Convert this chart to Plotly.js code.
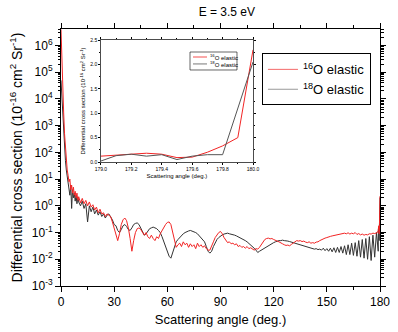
<!DOCTYPE html>
<html>
<head>
<meta charset="utf-8">
<script src="https://cdn.plot.ly/plotly-3.0.1.min.js"></script>
<style>
  html, body { margin: 0; padding: 0; background: #fff; }
  #chart { width: 398px; height: 332px; }
</style>
</head>
<body>
<div id="chart"></div>
<script>
// scattering angles (deg.)
var angle = [
  0, 0.5, 1, 1.5, 2, 2.5, 3, 3.5, 4, 4.5, 5, 5.5, 6, 6.5, 7, 7.5, 8, 8.5, 9, 9.5, 10,
  11, 12, 13, 14, 15, 16, 17, 18, 19, 20, 21, 22, 23, 24, 25, 26, 27, 28, 29, 30,
  31, 32, 33, 34, 35, 36, 37, 38, 39, 40, 41, 42, 43, 44, 45, 46, 47, 48, 49, 50,
  51, 52, 53, 54, 55, 56, 57, 58, 59, 60, 61, 62, 63, 64, 65, 66, 67, 68, 69, 70,
  71, 72, 73, 74, 75, 76, 77, 78, 79, 80, 81, 82, 83, 84, 85, 86, 87, 88, 89, 90,
  91, 92, 93, 94, 95, 96, 97, 98, 99, 100, 101, 102, 103, 104, 105, 106, 107, 108, 109, 110,
  111, 112, 113, 114, 115, 116, 117, 118, 119, 120, 121, 122, 123, 124, 125, 126, 127, 128, 129, 130,
  131, 132, 133, 134, 135, 136, 137, 138, 139, 140, 141, 142, 143, 144, 145, 146, 147, 148, 149, 150,
  151, 152, 153, 154, 155, 156, 157, 158, 159, 160, 161, 162, 163, 164, 165, 166, 167, 168, 169, 170,
  171, 172, 173, 174, 175, 176, 177, 178, 178.5,
  179.0, 179.1, 179.2, 179.3, 179.4, 179.5, 179.6, 179.7, 179.8, 179.9, 180.0
];

// 16O elastic
var o16 = [
  4e6, 2e5, 2e4, 3000, 500, 120, 45, 22, 14, 8, 10, 4, 6, 3, 5, 2.5, 3.5, 2, 3, 1.6, 2.2,
  1.3, 1.9, 1.2, 1.6, 1.0, 1.4, 0.9, 1.1, 0.7, 0.9, 0.55, 0.75, 0.5, 0.55, 0.4, 0.5, 0.45, 0.4, 0.25, 0.15,
  0.08, 0.05, 0.09, 0.2, 0.3, 0.35, 0.28, 0.15, 0.06, 0.02, 0.05, 0.1, 0.14, 0.15, 0.13, 0.1, 0.08, 0.1, 0.07, 0.06,
  0.08, 0.06, 0.05, 0.07, 0.06, 0.09, 0.12, 0.16, 0.2, 0.24, 0.25, 0.2, 0.1, 0.05, 0.028, 0.035, 0.04, 0.03, 0.045, 0.035,
  0.04, 0.028, 0.038, 0.03, 0.035, 0.025, 0.04, 0.03, 0.035, 0.028, 0.032, 0.025, 0.022, 0.022, 0.03, 0.045, 0.065, 0.085, 0.1, 0.11,
  0.09, 0.065, 0.05, 0.042, 0.045, 0.038, 0.04, 0.035, 0.038, 0.03, 0.033, 0.028, 0.03, 0.026, 0.03, 0.025, 0.027, 0.024, 0.022, 0.025,
  0.024, 0.028, 0.035, 0.045, 0.055, 0.06, 0.062, 0.058, 0.06, 0.055, 0.05, 0.048, 0.045, 0.04, 0.038, 0.035, 0.033, 0.034, 0.032, 0.036,
  0.04, 0.045, 0.05, 0.048, 0.05, 0.046, 0.048, 0.044, 0.042, 0.045, 0.04, 0.042, 0.04, 0.044, 0.045, 0.05, 0.055, 0.058, 0.062, 0.065,
  0.07, 0.072, 0.075, 0.078, 0.08, 0.085, 0.088, 0.09, 0.092, 0.095, 0.09, 0.098, 0.088, 0.095, 0.09, 0.1, 0.085, 0.092, 0.082, 0.088,
  0.08, 0.085, 0.082, 0.09, 0.088, 0.095, 0.092, 0.1, 0.1,
  0.12, 0.14, 0.16, 0.18, 0.16, 0.09, 0.1, 0.2, 0.33, 0.5, 2.3
];

// 18O elastic
var o18 = [
  5e4, 1e4, 2500, 600, 150, 50, 22, 12, 8, 5, 2.5, 6, 0.8, 4, 2, 3, 1.5, 2.5, 1.2, 2, 1.4,
  1.0, 1.5, 0.8, 1.2, 0.25, 1.0, 0.6, 0.9, 0.5, 0.7, 0.45, 0.6, 0.4, 0.5, 0.35, 0.45, 0.5, 0.4, 0.3, 0.2,
  0.18, 0.12, 0.1, 0.13, 0.18, 0.2, 0.17, 0.13, 0.12, 0.15, 0.2, 0.22, 0.23, 0.2, 0.15, 0.1, 0.08, 0.09, 0.11, 0.14,
  0.15, 0.16, 0.15, 0.14, 0.12, 0.1, 0.07, 0.045, 0.03, 0.02, 0.013, 0.011, 0.018, 0.03, 0.045, 0.055, 0.065, 0.08, 0.09, 0.1,
  0.11, 0.115, 0.12, 0.115, 0.11, 0.1, 0.09, 0.075, 0.065, 0.055, 0.045, 0.03, 0.02, 0.017, 0.02, 0.03, 0.042, 0.055, 0.065, 0.075,
  0.082, 0.088, 0.09, 0.095, 0.09, 0.088, 0.085, 0.08, 0.075, 0.07, 0.065, 0.06, 0.055, 0.05, 0.045, 0.04, 0.035, 0.03, 0.026, 0.022,
  0.018, 0.02, 0.022, 0.025, 0.028, 0.03, 0.033, 0.036, 0.04, 0.042, 0.045, 0.048, 0.05, 0.05, 0.052, 0.05, 0.05, 0.048, 0.046, 0.045,
  0.042, 0.04, 0.038, 0.036, 0.034, 0.033, 0.031, 0.03, 0.028, 0.027, 0.026, 0.025, 0.024, 0.025, 0.023, 0.024, 0.022, 0.026, 0.021, 0.025,
  0.02, 0.026, 0.019, 0.027, 0.018, 0.028, 0.018, 0.03, 0.017, 0.032, 0.015, 0.035, 0.015, 0.04, 0.014, 0.042, 0.013, 0.05, 0.012, 0.055,
  0.011, 0.06, 0.01, 0.07, 0.009, 0.08, 0.012, 0.1, 0.03,
  0.02, 0.13, 0.16, 0.12, 0.15, 0.05, 0.12, 0.15, 0.15, 1.1, 2.05
];

// close-up near backward scattering (inset)
var insetAngle = [179.0, 179.1, 179.2, 179.3, 179.4, 179.5, 179.6, 179.7, 179.8, 179.9, 180.0];
var insetO16 = [0.12, 0.14, 0.16, 0.18, 0.16, 0.09, 0.1, 0.2, 0.33, 0.5, 2.3];
var insetO18 = [0.02, 0.13, 0.16, 0.12, 0.15, 0.05, 0.12, 0.15, 0.15, 1.1, 2.05];

var seriesNames = ['<sup>16</sup>O elastic', '<sup>18</sup>O elastic'];
var decades = [-3, -2, -1, 0, 1, 2, 3, 4, 5, 6];

var red = '#f22424';
var dark = '#333333';

var yTickVals = decades.map(function (p) { return Math.pow(10, p); });
var yTickText = decades.map(function (p) { return '10<sup>' + p + '</sup>'; });
var yMinor = [];
decades.forEach(function (p) {
  for (var m = 2; m < 10; m++) yMinor.push(m * Math.pow(10, p));
});

var trace1 = {
  x: angle, y: o18, type: 'scatter', mode: 'lines',
  line: { color: dark, width: 1 }, showlegend: false
};
var trace2 = {
  x: angle, y: o16, type: 'scatter', mode: 'lines',
  line: { color: red, width: 1 }, showlegend: false
};
// legend entries (main legend)
var leg1 = {
  x: [null], y: [null], type: 'scatter', mode: 'lines',
  name: seriesNames[0], line: { color: '#f46a6a', width: 1 }
};
var leg2 = {
  x: [null], y: [null], type: 'scatter', mode: 'lines',
  name: seriesNames[1], line: { color: '#999999', width: 1 }
};
var trace3 = {
  x: insetAngle, y: insetO18, type: 'scatter', mode: 'lines',
  line: { color: '#555555', width: 1 }, xaxis: 'x2', yaxis: 'y2', showlegend: false
};
var trace4 = {
  x: insetAngle, y: insetO16, type: 'scatter', mode: 'lines',
  line: { color: red, width: 1 }, xaxis: 'x2', yaxis: 'y2', showlegend: false
};

var data = [trace1, trace2, leg1, leg2, trace4, trace3];

// small legend inside the inset
var shapes = [
  { type: 'rect', xref: 'paper', yref: 'paper', x0: 0.4044, x1: 0.5517, y0: 0.8405, y1: 0.9105,
    line: { color: '#000', width: 0.6 }, fillcolor: '#fff', layer: 'above' },
  { type: 'line', xref: 'paper', yref: 'paper', x0: 0.4138, x1: 0.4577, y0: 0.891, y1: 0.891,
    line: { color: red, width: 0.8 }, layer: 'above' },
  { type: 'line', xref: 'paper', yref: 'paper', x0: 0.4138, x1: 0.4577, y0: 0.864, y1: 0.864,
    line: { color: '#555555', width: 0.8 }, layer: 'above' }
];
var annotations = [
  { xref: 'paper', yref: 'paper', x: 0.462, y: 0.891, xanchor: 'left', yanchor: 'middle',
    text: seriesNames[0], showarrow: false, font: { size: 6 } },
  { xref: 'paper', yref: 'paper', x: 0.462, y: 0.864, xanchor: 'left', yanchor: 'middle',
    text: seriesNames[1], showarrow: false, font: { size: 6 } }
];

var layout = {
  width: 398, height: 332,
  margin: { l: 61, r: 18, t: 29, b: 46 },
  paper_bgcolor: '#fff', plot_bgcolor: '#fff',
  font: { family: 'Liberation Sans, Arial, sans-serif', color: '#000', size: 12 },
  title: { text: 'E = 3.5 eV', font: { size: 12 }, x: 0.57, xanchor: 'center', y: 0.965, yanchor: 'middle' },
  shapes: shapes,
  annotations: annotations,
  xaxis: {
    domain: [0, 1], range: [0, 180], tickmode: 'linear', tick0: 0, dtick: 30,
    ticks: 'outside', ticklen: 5, tickcolor: '#000', mirror: 'ticks',
    showline: true, linecolor: '#000', linewidth: 1, showgrid: false, zeroline: false,
    minor: { dtick: 15, ticks: 'outside', ticklen: 3, tickcolor: '#000', showgrid: false },
    title: { text: 'Scattering angle (deg.)', font: { size: 13 }, standoff: 6 }
  },
  yaxis: {
    type: 'log', range: [-3, 6.62],
    tickmode: 'array', tickvals: yTickVals, ticktext: yTickText,
    ticks: 'outside', ticklen: 5, tickcolor: '#000', mirror: 'ticks',
    showline: true, linecolor: '#000', linewidth: 1, showgrid: false, zeroline: false,
    minor: { tickmode: 'array', tickvals: yMinor, ticks: 'outside', ticklen: 2.5, tickcolor: '#000', showgrid: false },
    title: { text: 'Differential cross section (10<sup>-16</sup> cm<sup>2</sup> Sr<sup>-1</sup>)', font: { size: 14 }, standoff: 5 }
  },
  xaxis2: {
    domain: [0.125, 0.602], anchor: 'y2', range: [179.0, 180.0],
    tickmode: 'linear', tick0: 179, dtick: 0.2, tickformat: '.1f',
    ticks: 'outside', ticklen: 2, tickcolor: '#000', mirror: 'ticks',
    showline: true, linecolor: '#000', linewidth: 0.7, showgrid: false, zeroline: false,
    minor: { dtick: 0.1, ticks: 'outside', ticklen: 1.2, tickcolor: '#000', showgrid: false },
    tickfont: { size: 5 },
    title: { text: 'Scattering angle (deg.)', font: { size: 6 }, standoff: 2 }
  },
  yaxis2: {
    domain: [0.4825, 0.957], anchor: 'x2', range: [0, 2.5],
    tickmode: 'linear', tick0: 0, dtick: 0.5, tickformat: '.1f',
    ticks: 'outside', ticklen: 2, tickcolor: '#000', mirror: 'ticks',
    showline: true, linecolor: '#000', linewidth: 0.7, showgrid: false, zeroline: false,
    minor: { dtick: 0.25, ticks: 'outside', ticklen: 1.2, tickcolor: '#000', showgrid: false },
    tickfont: { size: 5 },
    title: { text: 'Differential cross section (10<sup>-16</sup> cm<sup>2</sup> Sr<sup>-1</sup>)', font: { size: 6 }, standoff: 3 }
  },
  legend: {
    x: 0.63, y: 0.905, xanchor: 'left', yanchor: 'top',
    bgcolor: '#fff', bordercolor: '#000', borderwidth: 1,
    font: { size: 13 }, itemwidth: 30, tracegroupgap: 0
  }
};

Plotly.newPlot('chart', data, layout, { staticPlot: true });
</script>
</body>
</html>
